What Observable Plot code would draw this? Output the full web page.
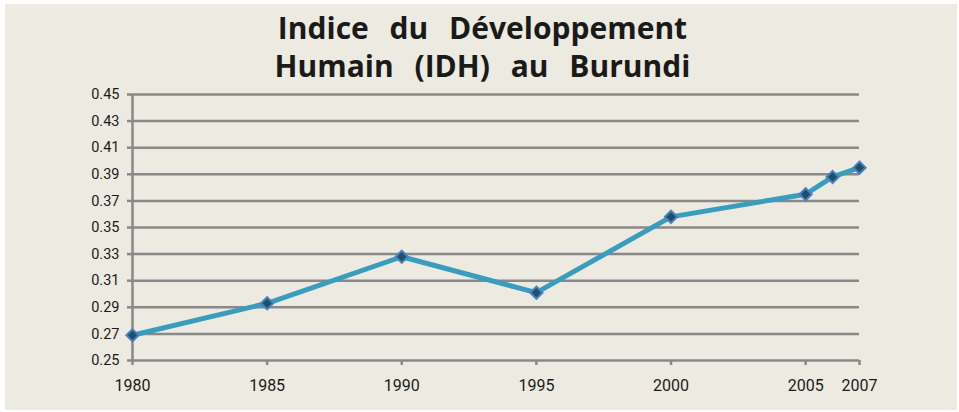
<!DOCTYPE html>
<html>
<head>
<meta charset="utf-8">
<script src="https://cdn.jsdelivr.net/npm/d3@7"></script>
<script src="https://cdn.jsdelivr.net/npm/@observablehq/plot@0.6"></script>
<style>
  html, body { margin: 0; padding: 0; background: #ffffff; }
  #frame { position: absolute; left: 5px; top: 4px; width: 952px; height: 406px; background: #EDEBE1; }
  #wrap { position: absolute; left: 0; top: 0; width: 959px; height: 412px; }
  #title { height: 70px; width: 959px; box-sizing: border-box; padding-top: 9px; text-align: center;
           font-family: "Open Sans", "Noto Sans", sans-serif; font-weight: 700; font-size: 30px;
           line-height: 38px; color: #1a1a1a; word-spacing: 13px; padding-left: 6px; white-space: nowrap; }
  svg { display: block; overflow: visible; }
</style>
</head>
<body>
<div id="frame"></div>
<div id="wrap">
  <div id="title">Indice du Développement<br>Humain (IDH) au Burundi</div>
  <div id="chart"></div>
</div>
<script>
const years = [1980, 1985, 1990, 1995, 2000, 2005, 2006, 2007];
const idh = [0.269, 0.293, 0.328, 0.301, 0.358, 0.375, 0.388, 0.395];
const xTicks = [1980, 1985, 1990, 1995, 2000, 2005, 2007];
const yTicks = [0.25, 0.27, 0.29, 0.31, 0.33, 0.35, 0.37, 0.39, 0.41, 0.43, 0.45];

const data = years.map((y, i) => ({year: y, value: idh[i]}));

const chart = Plot.plot({
  width: 959,
  height: 342,
  marginLeft: 132,
  marginRight: 100,
  marginTop: 24,
  marginBottom: 52,
  style: { background: "transparent", fontFamily: "Roboto, 'Liberation Sans', sans-serif", color: "#1a1a1a" },
  x: { type: "linear", domain: [1980, 2007], label: null },
  y: { domain: [0.25, 0.45], label: null },
  marks: [
    Plot.ruleY(yTicks, { stroke: "#898989", strokeWidth: 2.5 }),
    Plot.ruleX([1980], { y1: 0.25, y2: 0.45, stroke: "#898989", strokeWidth: 2.5 }),
    Plot.axisY({ ticks: yTicks, tickFormat: d => d.toFixed(2), tickSize: 5, tickPadding: 8, stroke: "#898989", strokeWidth: 2.5, fontSize: 14.5, label: null }),
    Plot.axisX({ ticks: xTicks, tickFormat: d => String(d), tickSize: 5, tickPadding: 14, stroke: "#898989", strokeWidth: 2.5, fontSize: 16, label: null }),
    Plot.line(data, { x: "year", y: "value", stroke: "#3A9DBE", strokeWidth: 5, strokeLinejoin: "round", strokeLinecap: "round" }),
    Plot.dot(data, { x: "year", y: "value", symbol: "diamond2", r: 5.5, fill: "#1E5066", stroke: "#4A80C4", strokeWidth: 2 })
  ]
});
document.getElementById("chart").appendChild(chart);
</script>
</body>
</html>
